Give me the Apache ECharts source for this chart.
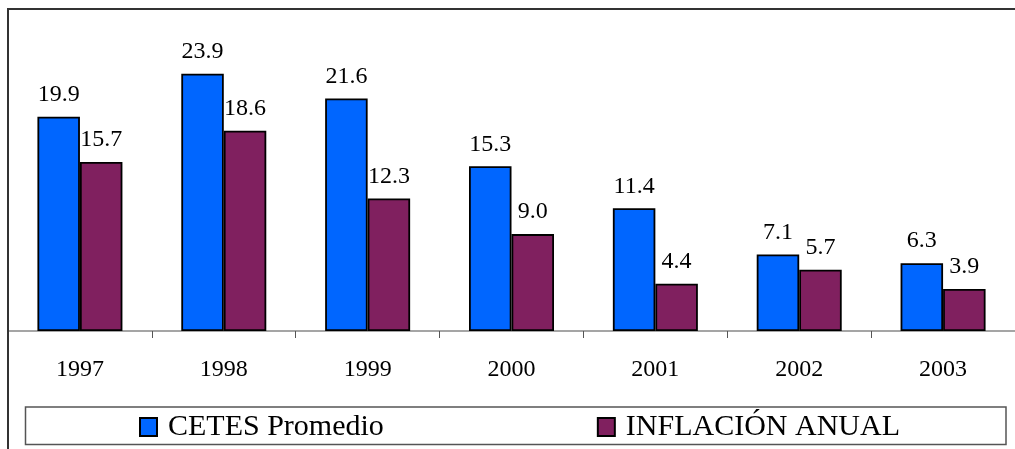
<!DOCTYPE html>
<html>
<head>
<meta charset="utf-8">
<script src="https://cdn.jsdelivr.net/npm/echarts@6/dist/echarts.min.js"></script>
<style>
html,body{margin:0;padding:0;background:#fff;}
#chart{width:1015px;height:449px;}
</style>
</head>
<body>
<div id="chart"></div>
<script>
const years = ['1997', '1998', '1999', '2000', '2001', '2002', '2003'];
const cetes = [19.9, 23.9, 21.6, 15.3, 11.4, 7.1, 6.3];
const inflacion = [15.7, 18.6, 12.3, 9.0, 4.4, 5.7, 3.9];
const seriesNames = ['CETES Promedio', 'INFLACIÓN ANUAL'];

const FONT = "'Liberation Serif', 'Times New Roman', serif";
const chart = echarts.init(document.getElementById('chart'), null, {renderer: 'canvas'});

const labelCfg = {
  show: true,
  position: 'top',
  distance: 10,
  color: '#000',
  fontFamily: FONT,
  fontSize: 24,
  formatter: p => Number(p.value).toFixed(1)
};

chart.setOption({
  animation: false,
  backgroundColor: '#fff',
  textStyle: {fontFamily: FONT},
  graphic: [
    {type: 'rect', shape: {x: 8, y: 9, width: 1100, height: 500},
     style: {fill: 'none', stroke: '#333', lineWidth: 2}, z: 100, silent: true},
    {type: 'rect', shape: {x: 25.5, y: 407, width: 980.5, height: 37.5},
     style: {fill: 'none', stroke: '#555', lineWidth: 1.5}, z: 100, silent: true}
  ],
  grid: {left: 8, right: -10, top: 8, bottom: 118, containLabel: false},
  legend: {
    data: seriesNames,
    left: 139,
    top: 412,
    padding: 0,
    itemWidth: 17,
    itemHeight: 18,
    itemGap: 213,
    icon: 'rect',
    textStyle: {fontFamily: FONT, fontSize: 30, color: '#000', padding: [0, 0, 0, 6]}
  },
  xAxis: {
    type: 'category',
    data: years,
    boundaryGap: true,
    axisLine: {show: true, lineStyle: {color: '#888', width: 1.5}},
    axisTick: {show: true, length: 7, lineStyle: {color: '#555', width: 1}},
    axisLabel: {color: '#000', fontFamily: FONT, fontSize: 24, margin: 27}
  },
  yAxis: {
    type: 'value', min: 0, max: 30,
    show: false,
    splitLine: {show: false}
  },
  series: [
    {name: seriesNames[0], type: 'bar', data: cetes, barWidth: 42.5, barGap: '0%',
     itemStyle: {color: '#0066ff', borderColor: '#000', borderWidth: 1.8},
     label: labelCfg},
    {name: seriesNames[1], type: 'bar', data: inflacion, barWidth: 42.5, barGap: '0%',
     itemStyle: {color: '#80205f', borderColor: '#000', borderWidth: 1.8},
     label: labelCfg}
  ]
});
</script>
</body>
</html>
